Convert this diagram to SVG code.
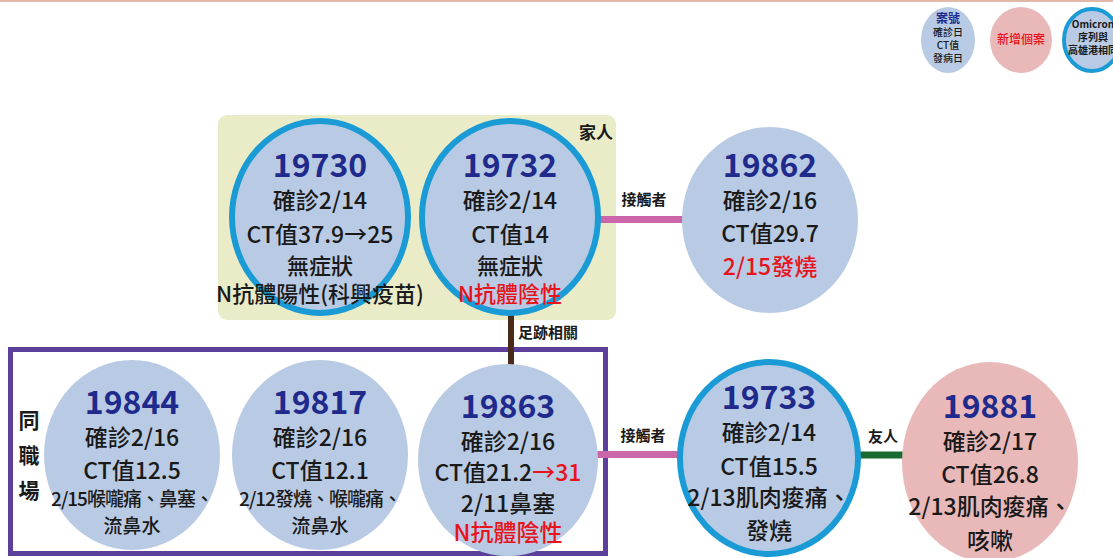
<svg xmlns="http://www.w3.org/2000/svg" width="1113" height="558" viewBox="0 0 1113 558">
<style>
text{font-family:"Noto Sans CJK TC","Noto Sans",sans-serif;text-anchor:middle;fill:#1a1a1a;font-weight:500}
.id{font-size:32px;font-weight:bold;fill:#1f2a8c}
.t{font-size:23px}
.t2{font-size:22px}
.s{font-size:19px}
.r{fill:#e8141c}
.lb{font-size:15px;font-weight:bold}
.blue{fill:#b9cbe4}
.pink{fill:#e9b9b9}
.ring{stroke:#1b9bd5;stroke-width:6}
.lg{font-size:10px}
</style>
<rect x="0" y="0" width="1113" height="558" fill="#ffffff"/>
<line x1="0" y1="1" x2="1113" y2="1" stroke="#e2b9a8" stroke-width="2"/>

<g id="legend">
<ellipse class="blue" cx="948" cy="40" rx="27" ry="33"/>
<text x="948" y="23" style="fill:#1f2a8c;font-size:12px;font-weight:bold">案號</text>
<text class="lg" x="948" y="36">確診日</text>
<text class="lg" x="948" y="49">CT值</text>
<text class="lg" x="948" y="62">發病日</text>
<ellipse class="pink" cx="1021" cy="40" rx="31" ry="33"/>
<text x="1021" y="44" style="font-size:12px;fill:#e8141c">新增個案</text>
<ellipse class="blue" cx="1092" cy="40" rx="28" ry="31" stroke="#1b9bd5" stroke-width="4"/>
<text class="lg" x="1093" y="28" style="font-weight:bold">Omicron</text>
<text class="lg" x="1093" y="41" style="font-weight:bold">序列與</text>
<text class="lg" x="1093" y="54" style="font-weight:bold">高雄港相同</text>
</g>

<g id="family">
<rect x="218" y="115" width="398" height="205" rx="9" fill="#e9ecc6"/>
<text class="lb" x="596" y="139" style="font-size:17px">家人</text>
</g>

<g id="workplace">
<rect x="10.5" y="349.5" width="595" height="204" fill="none" stroke="#5b3f9a" stroke-width="5"/>
<text x="29" y="428" style="font-size:21px;font-weight:bold">同</text>
<text x="29" y="463" style="font-size:21px;font-weight:bold">職</text>
<text x="29" y="498" style="font-size:21px;font-weight:bold">場</text>
</g>

<g id="connectors">
<line x1="600" y1="219.5" x2="684" y2="219.5" stroke="#cc66aa" stroke-width="7"/>
<text class="lb" x="644" y="205">接觸者</text>
<line x1="511" y1="312" x2="511" y2="368" stroke="#4a2a1a" stroke-width="6"/>
<text class="lb" x="548" y="338">足跡相關</text>
<line x1="596" y1="454.5" x2="680" y2="454.5" stroke="#cc66aa" stroke-width="7"/>
<text class="lb" x="643" y="441">接觸者</text>
<line x1="858" y1="455" x2="905" y2="455" stroke="#1a6b30" stroke-width="7"/>
<text class="lb" x="883" y="442">友人</text>
</g>

<g id="n19730">
<ellipse class="blue ring" cx="320" cy="217" rx="88" ry="96"/>
<text class="id" x="320" y="177">19730</text>
<text class="t" x="320" y="209">確診2/14</text>
<text class="t" x="320" y="243">CT值37.9→25</text>
<text class="t2" x="320" y="274">無症狀</text>
<text class="t2" x="320" y="302">N抗體陽性(科興疫苗)</text>
</g>

<g id="n19732">
<ellipse class="blue ring" cx="510" cy="217" rx="88" ry="96"/>
<text class="id" x="510" y="177">19732</text>
<text class="t" x="510" y="209">確診2/14</text>
<text class="t" x="510" y="243">CT值14</text>
<text class="t2" x="510" y="274">無症狀</text>
<text class="t2 r" x="510" y="302">N抗體陰性</text>
</g>

<g id="n19862">
<ellipse class="blue" cx="770" cy="220" rx="88" ry="93"/>
<text class="id" x="770" y="177">19862</text>
<text class="t" x="770" y="209">確診2/16</text>
<text class="t" x="770" y="242">CT值29.7</text>
<text class="t r" x="770" y="275">2/15發燒</text>
</g>

<g id="n19844">
<ellipse class="blue" cx="132" cy="455" rx="88" ry="95"/>
<text class="id" x="132" y="414">19844</text>
<text class="t" x="132" y="446">確診2/16</text>
<text class="t" x="132" y="479">CT值12.5</text>
<text class="s" x="132" y="506" style="letter-spacing:-1px">2/15喉嚨痛、鼻塞、</text>
<text class="s" x="132" y="533">流鼻水</text>
</g>

<g id="n19817">
<ellipse class="blue" cx="320" cy="455" rx="88" ry="95"/>
<text class="id" x="320" y="414">19817</text>
<text class="t" x="320" y="446">確診2/16</text>
<text class="t" x="320" y="479">CT值12.1</text>
<text class="s" x="320" y="506" style="letter-spacing:-1px">2/12發燒、喉嚨痛、</text>
<text class="s" x="320" y="533">流鼻水</text>
</g>

<g id="n19863">
<ellipse class="blue" cx="508" cy="460" rx="90" ry="96"/>
<text class="id" x="508" y="418">19863</text>
<text class="t" x="508" y="450">確診2/16</text>
<text class="t" x="508" y="481">CT值21.2<tspan class="r">→31</tspan></text>
<text class="t" x="508" y="512">2/11鼻塞</text>
<text class="t r" x="508" y="541">N抗體陰性</text>
</g>

<g id="n19733">
<ellipse class="blue ring" cx="769" cy="458" rx="89" ry="96"/>
<text class="id" x="769" y="409">19733</text>
<text class="t" x="769" y="441">確診2/14</text>
<text class="t" x="769" y="475">CT值15.5</text>
<text class="t" x="769" y="506">2/13肌肉痠痛、</text>
<text class="t" x="769" y="539">發燒</text>
</g>

<g id="n19881">
<ellipse class="pink" cx="990" cy="462" rx="88" ry="100"/>
<text class="id" x="990" y="418">19881</text>
<text class="t" x="990" y="450">確診2/17</text>
<text class="t" x="990" y="483">CT值26.8</text>
<text class="t" x="990" y="515">2/13肌肉痠痛、</text>
<text class="t" x="990" y="549">咳嗽</text>
</g>
</svg>
